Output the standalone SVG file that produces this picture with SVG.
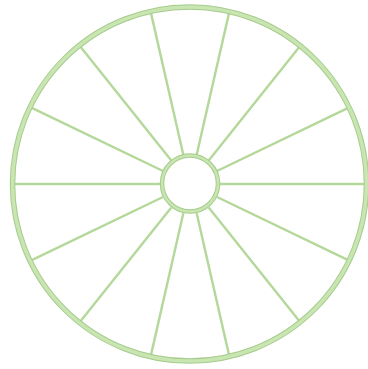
<svg xmlns="http://www.w3.org/2000/svg" width="368" height="369" viewBox="0 0 368 369">
<rect x="0" y="0" width="368" height="369" fill="#ffffff"/>
<g id="connectors" stroke="#b4d89a" stroke-width="2.4" fill="none">
<line x1="196.68" y1="154.75" x2="228.94" y2="13.39"/>
<line x1="208.71" y1="160.55" x2="299.11" y2="47.18"/>
<line x1="217.03" y1="170.98" x2="347.68" y2="108.07"/>
<line x1="220" y1="184" x2="365" y2="184"/>
<line x1="217.03" y1="197.02" x2="347.68" y2="259.93"/>
<line x1="208.71" y1="207.45" x2="299.11" y2="320.82"/>
<line x1="196.68" y1="213.25" x2="228.94" y2="354.61"/>
<line x1="183.32" y1="213.25" x2="151.06" y2="354.61"/>
<line x1="171.29" y1="207.45" x2="80.89" y2="320.82"/>
<line x1="162.97" y1="197.02" x2="32.32" y2="259.93"/>
<line x1="160" y1="184" x2="15" y2="184"/>
<line x1="162.97" y1="170.98" x2="32.32" y2="108.07"/>
<line x1="171.29" y1="160.55" x2="80.89" y2="47.18"/>
<line x1="183.32" y1="154.75" x2="151.06" y2="13.39"/>
</g>
<g id="rim">
<circle cx="189.5" cy="184" r="177" fill="none" stroke="#a6cc8c" stroke-width="5.5"/>
<circle cx="189.5" cy="184" r="177" fill="none" stroke="#c8e5b2" stroke-width="3.5"/>
</g>
<g id="hub">
<circle cx="190" cy="183.5" r="28" fill="#ffffff" stroke="#a6cc8c" stroke-width="4.5"/>
<circle cx="190" cy="183.5" r="28" fill="none" stroke="#c8e5b2" stroke-width="2.5"/>
</g>
</svg>
